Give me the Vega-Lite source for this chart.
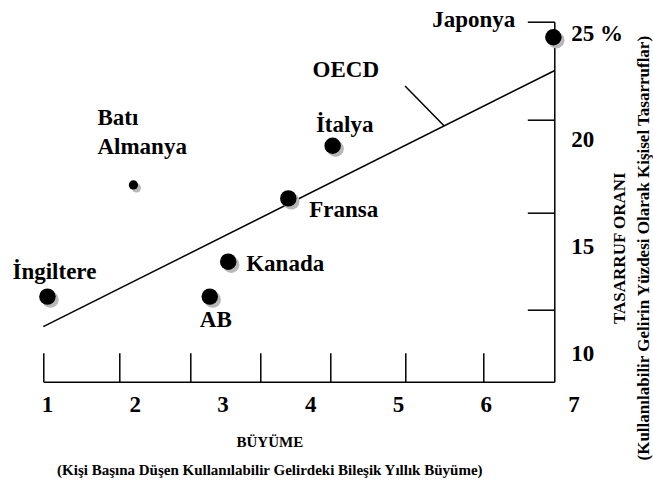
{
  "$schema": "https://vega.github.io/schema/vega-lite/v6.json",
  "width": 511,
  "height": 360,
  "autosize": {"type": "none"},
  "padding": {"left": 43.3, "top": 21.7, "right": 98.7, "bottom": 101.3},
  "background": "white",
  "config": {
    "view": {"stroke": null},
    "font": "Liberation Serif",
    "text": {"font": "Liberation Serif", "fontWeight": "bold", "fontSize": 23, "color": "black"}
  },
  "datasets": {
    "ulkeler": [
      {"ulke": "İngiltere", "buyume": 1.0, "tasarruf": 12.67, "nokta": "büyük"},
      {"ulke": "Batı Almanya", "buyume": 1.98, "tasarruf": 17.91, "nokta": "küçük"},
      {"ulke": "AB", "buyume": 2.85, "tasarruf": 12.67, "nokta": "büyük"},
      {"ulke": "Kanada", "buyume": 3.06, "tasarruf": 14.31, "nokta": "büyük"},
      {"ulke": "Fransa", "buyume": 3.745, "tasarruf": 17.28, "nokta": "büyük"},
      {"ulke": "İtalya", "buyume": 4.25, "tasarruf": 19.75, "nokta": "büyük"},
      {"ulke": "Japonya", "buyume": 6.765, "tasarruf": 24.84, "nokta": "büyük"}
    ],
    "oecd": [
      {"buyume": 0.953, "tasarruf": 11.26},
      {"buyume": 6.776, "tasarruf": 23.27}
    ],
    "isaret": [
      {"buyume": 5.075, "tasarruf": 22.55, "buyume2": 5.519, "tasarruf2": 20.69, "etiket": "OECD"}
    ],
    "xetiket": [
      {"buyume": 1}, {"buyume": 2}, {"buyume": 3}, {"buyume": 4}, {"buyume": 5}, {"buyume": 6}, {"buyume": 7}
    ],
    "yetiket": [
      {"tasarruf": 25, "etiket": "25 %"},
      {"tasarruf": 20, "etiket": "20"},
      {"tasarruf": 15, "etiket": "15"},
      {"tasarruf": 10, "etiket": "10"}
    ]
  },
  "encoding": {
    "x": {
      "field": "buyume", "type": "quantitative",
      "scale": {"domain": [0.953, 6.776], "nice": false, "zero": false},
      "axis": {
        "values": [0.953, 1.816, 2.625, 3.43, 4.225, 5.074, 5.963],
        "labels": false, "grid": false,
        "tickSize": -29, "tickColor": "black", "tickWidth": 1.5,
        "domainColor": "black", "domainWidth": 1.5,
        "title": ["BÜYÜME", "(Kişi Başına Düşen Kullanılabilir Gelirdeki Bileşik Yıllık Büyüme)"],
        "titleFont": "Liberation Serif", "titleFontSize": 15, "titleFontWeight": "bold", "titleColor": "black",
        "titleLineHeight": 28, "titleAnchor": "start", "titleAlign": "center", "titleBaseline": "middle",
        "titleX": 226, "titleY": 60
      }
    },
    "y": {
      "field": "tasarruf", "type": "quantitative",
      "scale": {"domain": [8.678, 25.57], "nice": false, "zero": false},
      "axis": {
        "orient": "right",
        "values": [12.04, 16.61, 20.96, 25.57],
        "labels": false, "grid": false,
        "tickSize": -27, "tickColor": "black", "tickWidth": 1.5,
        "domainColor": "black", "domainWidth": 1.5,
        "title": ["TASARRUF ORANI", "(Kullanılabilir Gelirin Yüzdesi Olarak Kişisel Tasarruflar)"],
        "titleFont": "Liberation Serif", "titleFontSize": 17, "titleFontWeight": "bold", "titleColor": "black",
        "titleLineHeight": 24, "titleAngle": 270, "titleAnchor": "start", "titleAlign": "center", "titleBaseline": "middle",
        "titleX": 65, "titleY": 226
      }
    }
  },
  "layer": [
    {
      "data": {"name": "oecd"},
      "mark": {"type": "line", "color": "black", "strokeWidth": 1.5}
    },
    {
      "data": {"name": "isaret"},
      "mark": {"type": "rule", "color": "black", "strokeWidth": 1.5},
      "encoding": {"x2": {"field": "buyume2"}, "y2": {"field": "tasarruf2"}}
    },
    {
      "data": {"name": "isaret"},
      "mark": {"type": "text", "align": "right", "baseline": "middle", "dx": -26, "dy": -16},
      "encoding": {"text": {"field": "etiket"}}
    },
    {
      "data": {"name": "ulkeler"},
      "mark": {"type": "circle", "color": "#b8b8b8", "opacity": 1, "xOffset": 3, "yOffset": 3},
      "encoding": {
        "size": {"field": "nokta", "type": "nominal", "scale": {"domain": ["büyük", "küçük"], "range": [272, 85]}, "legend": null}
      }
    },
    {
      "data": {"name": "ulkeler"},
      "mark": {"type": "circle", "color": "black", "opacity": 1},
      "encoding": {
        "size": {"field": "nokta", "type": "nominal", "scale": {"domain": ["büyük", "küçük"], "range": [272, 85]}, "legend": null}
      }
    },
    {
      "data": {"name": "ulkeler"},
      "transform": [{"filter": "datum.ulke === 'İngiltere'"}],
      "mark": {"type": "text", "align": "center", "baseline": "middle", "dx": 7, "dy": -25},
      "encoding": {"text": {"field": "ulke"}}
    },
    {
      "data": {"name": "ulkeler"},
      "transform": [{"filter": "datum.ulke === 'Batı Almanya'"}],
      "mark": {"type": "text", "align": "left", "baseline": "middle", "lineBreak": " ", "lineHeight": 29, "dx": -36, "dy": -67},
      "encoding": {"text": {"field": "ulke"}}
    },
    {
      "data": {"name": "ulkeler"},
      "transform": [{"filter": "datum.ulke === 'AB'"}],
      "mark": {"type": "text", "align": "center", "baseline": "middle", "dx": 6, "dy": 23},
      "encoding": {"text": {"field": "ulke"}}
    },
    {
      "data": {"name": "ulkeler"},
      "transform": [{"filter": "datum.ulke === 'Kanada'"}],
      "mark": {"type": "text", "align": "left", "baseline": "middle", "dx": 18, "dy": 2},
      "encoding": {"text": {"field": "ulke"}}
    },
    {
      "data": {"name": "ulkeler"},
      "transform": [{"filter": "datum.ulke === 'Fransa'"}],
      "mark": {"type": "text", "align": "left", "baseline": "middle", "dx": 21, "dy": 12},
      "encoding": {"text": {"field": "ulke"}}
    },
    {
      "data": {"name": "ulkeler"},
      "transform": [{"filter": "datum.ulke === 'İtalya'"}],
      "mark": {"type": "text", "align": "center", "baseline": "middle", "dx": 12, "dy": -21},
      "encoding": {"text": {"field": "ulke"}}
    },
    {
      "data": {"name": "ulkeler"},
      "transform": [{"filter": "datum.ulke === 'Japonya'"}],
      "mark": {"type": "text", "align": "right", "baseline": "middle", "dx": -38, "dy": -17},
      "encoding": {"text": {"field": "ulke"}}
    },
    {
      "data": {"name": "xetiket"},
      "mark": {"type": "text", "align": "center", "baseline": "middle", "dy": 23, "clip": false},
      "encoding": {
        "y": {"value": "height"},
        "text": {"field": "buyume", "type": "quantitative"}
      }
    },
    {
      "data": {"name": "yetiket"},
      "mark": {"type": "text", "align": "left", "baseline": "middle", "dx": 17, "clip": false},
      "encoding": {
        "x": {"value": "width"},
        "text": {"field": "etiket"}
      }
    }
  ]
}
